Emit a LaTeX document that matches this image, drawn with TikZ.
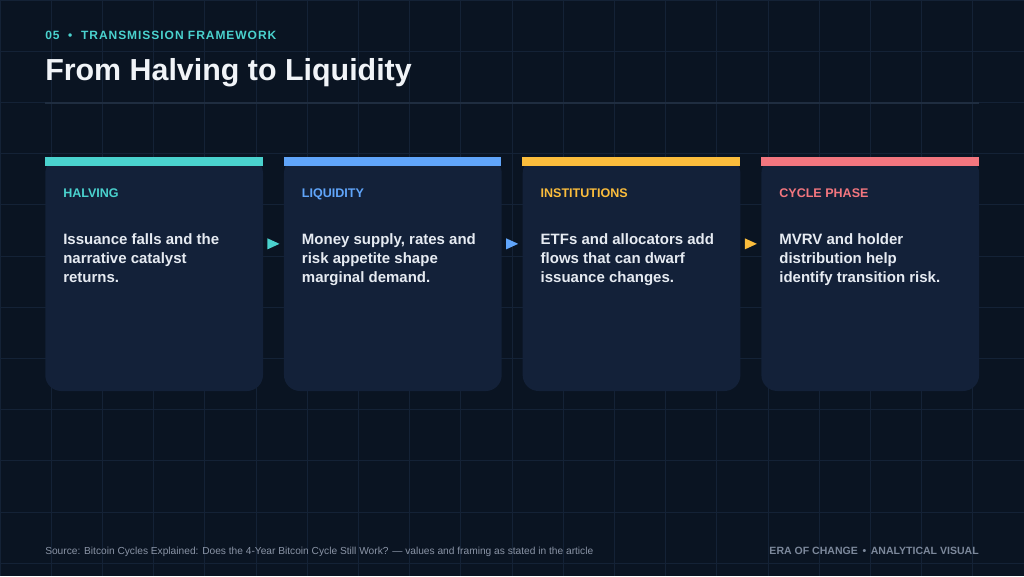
\documentclass[tikz,border=0pt]{standalone}
\usepackage{fontspec}
\setmainfont{Liberation Sans}
\usetikzlibrary{calc}

\definecolor{bgc}{HTML}{0A1422}
\definecolor{gridc}{HTML}{142236}
\definecolor{cardc}{HTML}{132139}
\definecolor{divc}{HTML}{1F2D40}
\definecolor{tealc}{HTML}{4AD2CE}
\definecolor{bluec}{HTML}{60A5FA}
\definecolor{amberc}{HTML}{FBBD3C}
\definecolor{redc}{HTML}{F3767F}
\definecolor{titlec}{HTML}{F1F4F8}
\definecolor{bodyc}{HTML}{E6EBF2}
\definecolor{footc}{HTML}{8A94A6}
\definecolor{brandc}{HTML}{7C889B}

\tikzset{
  card/.style={fill=cardc, rounded corners=12pt, minimum width=163.3pt,
    minimum height=175.3pt, inner sep=0pt, anchor=north west},
  tag/.style={anchor=base west, inner sep=0pt, font=\bfseries\fontsize{9.4}{11}\selectfont},
  body/.style={anchor=base west, inner sep=0pt, align=left, text=bodyc,
    font=\bfseries\fontsize{11.25}{14.25}\selectfont},
}

\begin{document}
\begin{tikzpicture}[x=.75pt, y=-.75pt]
\fill[bgc](0,0) rectangle (1024,576);
\useasboundingbox (0,0) rectangle (1024,576);
\foreach \i in {0,...,20} \draw[gridc, line width=.75pt](\i*51.2,0)--(\i*51.2,576);
\foreach \j in {0,...,11} \draw[gridc, line width=.75pt](0,\j*51.2)--(1024,\j*51.2);

\node[anchor=base west, inner sep=0pt, text=tealc, font=\bfseries\fontsize{9}{11}\selectfont\addfontfeature{LetterSpace=8}](kicker) at (45,39.3){05\hspace{6.5pt}•\hspace{6.5pt}TRANSMISSION FRAMEWORK};
\node[anchor=base west, inner sep=0pt, text=titlec, font=\bfseries\fontsize{22.8}{27}\selectfont](title) at (45,80){From Halving to Liquidity};
\draw[divc, line width=1.5pt](45,102.7)--(979,102.7);

% the four stages
\node[card](halving) at (45,157){};
\node[card](liquidity) at (283.7,157){};
\node[card](institutions) at (522.4,157){};
\node[card](phase) at (761.1,157){};

\fill[tealc](halving.north west) rectangle ++(217.7,8.7);
\fill[bluec](liquidity.north west) rectangle ++(217.7,8.7);
\fill[amberc](institutions.north west) rectangle ++(217.7,8.7);
\fill[redc](phase.north west) rectangle ++(217.7,8.7);

\node[tag, text=tealc](halving-t) at ($(halving.north west)+(18,40.7)$){HALVING};
\node[tag, text=bluec](liquidity-t) at ($(liquidity.north west)+(18,40.7)$){LIQUIDITY};
\node[tag, text=amberc](institutions-t) at ($(institutions.north west)+(18,40.7)$){INSTITUTIONS};
\node[tag, text=redc](phase-t) at ($(phase.north west)+(18,40.7)$){CYCLE PHASE};

% base of a three line node is its last line
\node[body](halving-b) at ($(halving.north west)+(18,125.3)$){Issuance falls and the\\narrative catalyst\\returns.};
\node[body](liquidity-b) at ($(liquidity.north west)+(18,125.3)$){Money supply, rates and\\risk appetite shape\\marginal demand.};
\node[body](institutions-b) at ($(institutions.north west)+(18,125.3)$){ETFs and allocators add\\flows that can dwarf\\issuance changes.};
\node[body](phase-b) at ($(phase.north west)+(18,125.3)$){MVRV and holder\\distribution help\\identify transition risk.};

% markers between the cards
\coordinate(a1) at ($(halving.east)!.5!(liquidity.west)+(0,-30.3)$);
\coordinate(a2) at ($(liquidity.east)!.5!(institutions.west)+(0,-30.3)$);
\coordinate(a3) at ($(institutions.east)!.5!(phase.west)+(0,-30.3)$);
\fill[tealc]($(a1)+(-6,-5.5)$)--($(a1)+(6,0)$)--($(a1)+(-6,5.5)$)--cycle;
\fill[bluec]($(a2)+(-6,-5.5)$)--($(a2)+(6,0)$)--($(a2)+(-6,5.5)$)--cycle;
\fill[amberc]($(a3)+(-6,-5.5)$)--($(a3)+(6,0)$)--($(a3)+(-6,5.5)$)--cycle;

\node[anchor=base west, inner sep=0pt, text=footc, font=\fontsize{7.64}{9}\selectfont](source) at (45,554){Source: Bitcoin Cycles Explained: Does the 4-Year Bitcoin Cycle Still Work? — values and framing as stated in the article};
\node[anchor=base east, inner sep=0pt, text=brandc, font=\bfseries\fontsize{7.9}{9}\selectfont](brand) at (979,554){ERA OF CHANGE\hspace{3.5pt}•\hspace{3.5pt}ANALYTICAL VISUAL};
\end{tikzpicture}
\end{document}
